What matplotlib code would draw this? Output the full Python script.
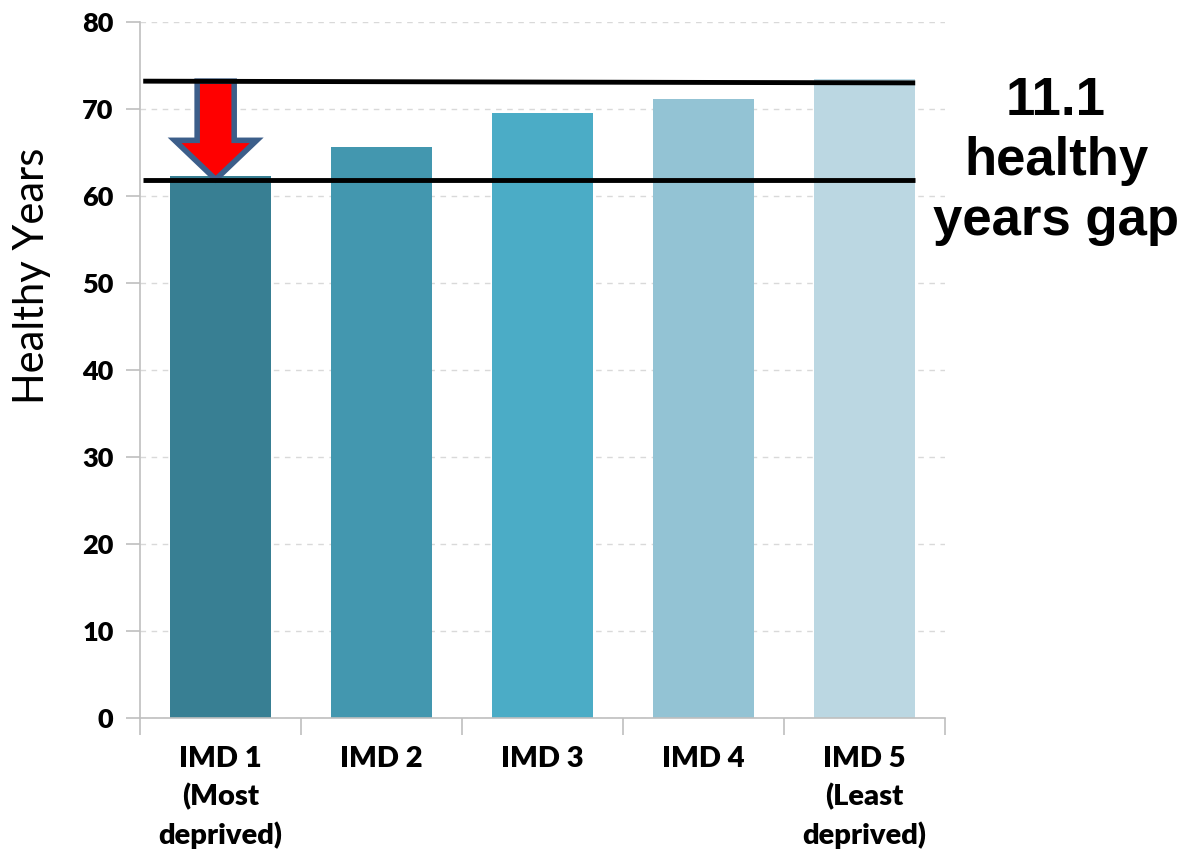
import numpy as np
import matplotlib.pyplot as plt
from matplotlib.patches import FancyArrow

# Healthy life expectancy by deprivation quintile
categories = ["IMD 1\n(Most\ndeprived)", "IMD 2", "IMD 3", "IMD 4", "IMD 5\n(Least\ndeprived)"]
healthy_years = [62.3, 65.6, 69.5, 71.1, 73.4]
bar_colors = ["#387F93", "#4397AF", "#4BACC6", "#93C3D4", "#BBD7E2"]

# reference lines marking the gap (left end, right end)
upper_line = [73.2, 73.0]
lower_line = [61.8, 61.8]
gap_label = "11.1\nhealthy\nyears gap"

fig = plt.figure(figsize=(11.84, 8.52), dpi=100)
ax = fig.add_axes([140 / 1184, 134 / 852, 805 / 1184, 696 / 852])

x = np.arange(len(categories))
ax.bar(x, healthy_years, width=0.63, color=bar_colors, zorder=2)

ax.set_xlim(-0.5, len(categories) - 0.5)
ax.set_ylim(0, 80)
ax.set_yticks(np.arange(0, 81, 10))
ax.yaxis.grid(True, linestyle=(0, (4, 4)), color="#D9D9D9", linewidth=1.0, zorder=0)
ax.set_axisbelow(True)

# category boundaries as major ticks, labels on minor ticks
ax.set_xticks(np.arange(len(categories) + 1) - 0.5)
ax.set_xticklabels([])
ax.set_xticks(x, minor=True)
ax.set_xticklabels(categories, minor=True, fontsize=21, fontweight="heavy",
                   family="Lato", linespacing=1.5, va="top")
ax.tick_params(axis="x", which="major", length=12, color="#BFBFBF", width=1.2)
ax.tick_params(axis="x", which="minor", length=0, pad=20)
ax.tick_params(axis="y", length=10, color="#BFBFBF", width=1.2, pad=9)
for lbl in ax.get_yticklabels():
    lbl.set_fontsize(19.5)
    lbl.set_fontweight("heavy")
    lbl.set_family("Lato")

for side in ["top", "right"]:
    ax.spines[side].set_visible(False)
for side in ["left", "bottom"]:
    ax.spines[side].set_color("#BFBFBF")
    ax.spines[side].set_linewidth(1.2)

ax.set_ylabel("Healthy Years", fontsize=30, family="Lato", va="center")
ax.yaxis.set_label_coords(-0.134, 0.636)

# gap lines
line_x = [-0.48, 4.315]
ax.plot(line_x, upper_line, color="black", linewidth=3.5, zorder=5, solid_capstyle="butt")
ax.plot(line_x, lower_line, color="black", linewidth=3.5, zorder=5, solid_capstyle="butt")

# downward arrow over the most deprived bar
arrow = FancyArrow(-0.03, upper_line[0], 0, lower_line[0] + 0.1 - upper_line[0],
                   width=0.23, head_width=0.51, head_length=4.5,
                   length_includes_head=True, facecolor="#FF0000",
                   edgecolor="#3C5E8A", linewidth=4, zorder=4)
ax.add_patch(arrow)

fig.text(1056 / 1184, 1 - 161 / 852, gap_label, ha="center", va="center",
         fontsize=38, fontweight="bold", family="Liberation Sans", linespacing=1.26)

fig.savefig("out.png", dpi=100)
